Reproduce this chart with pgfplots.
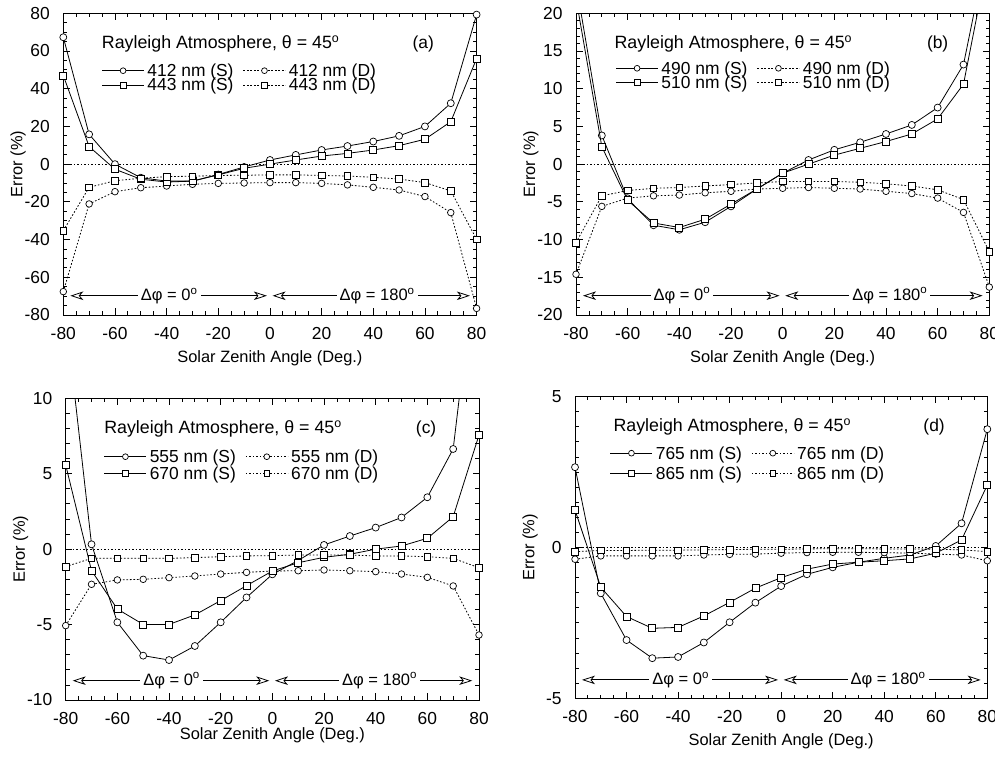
\documentclass[border=0pt]{standalone}
\usepackage{fontspec}
\setmainfont{Liberation Sans}
\usepackage{pgfplots}
\usepackage{pgfplotstable}
\pgfplotsset{compat=1.18}
\usetikzlibrary{arrows.meta}

\newcommand\ticksz{\fontsize{17.4}{20}\selectfont}
\newcommand\titsz{\fontsize{17.8}{20}\selectfont}
\newcommand\legsz{\fontsize{17.4}{20}\selectfont}
\newcommand\arrsz{\fontsize{16.5}{19}\selectfont}
\newcommand\labsz{\fontsize{16.4}{19}\selectfont}
\newcommand\legent[1]{\hspace*{3pt}#1\hspace*{9.5pt}}

\pgfplotstableread{
x s1 d1 s2 d2
-80 67.3 -67.6 47.0 -35.3
-70 15.8 -21.1 9.3 -12.3
-60 0.0 -14.6 -2.7 -8.8
-50 -7.2 -12.5 -8.0 -7.5
-40 -9.0 -11.6 -9.5 -6.6
-30 -9.0 -10.7 -9.0 -6.4
-20 -5.5 -10.2 -5.7 -6.0
-10 -1.5 -10.0 -2.2 -5.9
0 2.2 -9.8 0.0 -5.7
10 4.9 -9.8 2.2 -5.7
20 7.5 -10.2 4.3 -6.0
30 9.6 -11.0 5.7 -6.3
40 12.0 -12.3 7.5 -7.0
50 15.0 -13.7 9.8 -7.9
60 20.0 -17.2 13.2 -9.8
70 32.3 -25.7 22.5 -14.2
80 79.3 -76.5 56.0 -39.9
}\dataA

\pgfplotstableread{
x s1 d1 s2 d2
-80 24.0 -14.6 22.0 -10.4
-70 3.8 -5.6 2.3 -4.2
-60 -4.6 -4.5 -4.8 -3.5
-50 -8.1 -4.2 -7.8 -3.2
-40 -8.7 -4.1 -8.4 -3.1
-30 -7.7 -3.8 -7.3 -2.9
-20 -5.6 -3.6 -5.3 -2.7
-10 -3.3 -3.3 -3.3 -2.5
0 -1.2 -3.2 -1.2 -2.3
10 0.55 -3.1 0.0 -2.3
20 1.9 -3.2 1.2 -2.3
30 2.9 -3.3 2.1 -2.4
40 4.0 -3.6 3.0 -2.6
50 5.2 -3.9 4.0 -2.9
60 7.5 -4.5 6.0 -3.4
70 13.2 -6.4 10.6 -4.7
80 30.0 -16.3 28.0 -11.6
}\dataB

\pgfplotstableread{
x s1 d1 s2 d2
-80 15.5 -5.07 5.58 -1.16
-70 0.32 -2.33 -1.43 -0.61
-60 -4.85 -2.04 -3.97 -0.61
-50 -7.06 -2.00 -4.99 -0.61
-40 -7.35 -1.89 -4.99 -0.61
-30 -6.42 -1.78 -4.36 -0.56
-20 -4.85 -1.65 -3.41 -0.50
-10 -3.20 -1.54 -2.42 -0.45
0 -1.67 -1.45 -1.45 -0.43
10 -0.75 -1.43 -0.90 -0.39
20 0.28 -1.38 -0.54 -0.39
30 0.87 -1.43 -0.34 -0.39
40 1.43 -1.49 0.00 -0.45
50 2.10 -1.65 0.21 -0.45
60 3.44 -1.87 0.72 -0.50
70 6.64 -2.44 2.15 -0.61
80 21.0 -5.69 7.57 -1.23
}\dataC

\pgfplotstableread{
x s1 d1 s2 d2
-80 2.66 -0.39 1.24 -0.14
-70 -1.52 -0.28 -1.32 -0.10
-60 -3.07 -0.28 -2.29 -0.10
-50 -3.67 -0.28 -2.68 -0.09
-40 -3.63 -0.28 -2.65 -0.09
-30 -3.15 -0.25 -2.27 -0.08
-20 -2.48 -0.23 -1.82 -0.07
-10 -1.83 -0.22 -1.35 -0.06
0 -1.28 -0.19 -1.00 -0.06
10 -0.89 -0.17 -0.72 -0.05
20 -0.66 -0.16 -0.55 -0.04
30 -0.49 -0.16 -0.49 -0.04
40 -0.36 -0.17 -0.44 -0.05
50 -0.25 -0.19 -0.38 -0.05
60 0.05 -0.22 -0.19 -0.06
70 0.80 -0.25 0.25 -0.08
80 3.92 -0.44 2.07 -0.14
}\dataD

\pgfplotsset{
  S/.style={black, line width=0.8pt, solid, mark size=3.5pt,
    mark options={solid, fill=white, line width=0.7pt}},
  D/.style={black, line width=0.8pt, dash pattern=on 1.6pt off 1.9pt, mark size=3.3pt,
    mark options={solid, fill=white, line width=0.7pt}},
  panel/.style={
    scale only axis, width=413.3pt, height=301.7pt,
    xmin=-80, xmax=80, xtick={-80,-60,...,80}, minor x tick num=3,
    tick align=inside, major tick length=6.5pt, minor tick length=3.8pt,
    axis line style={line width=0.9pt},
    every tick/.style={black, line width=0.8pt},
    /pgf/number format/assume math mode=true,
    tick label style={font=\ticksz, inner sep=0pt},
    xticklabel style={anchor=center, yshift=-18.3pt},
    yticklabel style={anchor=east, xshift=-13.3pt},
    ylabel={Error (\%)}, xlabel={Solar Zenith Angle (Deg.)},
    every axis y label/.style={at={(axis description cs:-0.109,0.5)}, anchor=center, rotate=90, font=\labsz},
    every axis x label/.style={at={(axis description cs:0.5,-0.1435)}, anchor=center, font=\labsz},
    clip mode=individual,
    legend columns=2,
    legend style={draw=none, fill=none, inner sep=0pt, outer sep=0pt, anchor=north west,
      font=\legsz, nodes={inner sep=0pt, text height=12pt, text depth=0pt}, column sep=0pt},
    legend cell align=left,
    legend image code/.code={\draw[##1] (0pt,0pt) -- (42pt,0pt); \draw[##1, mark size=2.9pt] plot coordinates {(21pt,0pt)};},
  },
}

\newcommand\arrowsat[1]{%
  \draw[line width=0.8pt, {Stealth[open,length=13pt,width=8.5pt,inset=3.5pt]}-{Stealth[open,length=13pt,width=8.5pt,inset=3.5pt]}] (axis cs:-77.3,#1) -- (axis cs:-1.2,#1);
  \draw[line width=0.8pt, {Stealth[open,length=13pt,width=8.5pt,inset=3.5pt]}-{Stealth[open,length=13pt,width=8.5pt,inset=3.5pt]}] (axis cs:1.0,#1) -- (axis cs:77.4,#1);
  \node[fill=white, inner sep=3pt, font=\arrsz] at (axis cs:-39,#1) {Δφ = 0\textsuperscript{o}};
  \node[fill=white, inner sep=3pt, font=\arrsz] at (axis cs:41.5,#1) {Δφ = 180\textsuperscript{o}};
}
\newcommand\titles[2]{%
  \node[anchor=west, font=\titsz, inner sep=0pt] at (axis description cs:0.093,0.899) {Rayleigh Atmosphere, θ = 45\textsuperscript{o}};
  \node[font=\legsz, inner sep=0pt] at (axis description cs:#2,0.899) {#1};
}

\begin{document}
\begin{tikzpicture}
% (a)
\begin{axis}[panel, at={(63.3pt,442pt)}, anchor=south west,
  ymin=-80, ymax=80, ytick={-80,-60,...,80}, minor y tick num=3,
  legend style={at={(axis description cs:0.0929,0.8296)}, row sep=2.3pt}]
\addplot[forget plot, D, mark=none] coordinates {(-80,0) (80,0)};
\addplot[S, mark=*] table[x=x, y=s1] {\dataA}; \addlegendentry{\legent{412 nm (S)}}
\addplot[D, mark=*] table[x=x, y=d1] {\dataA}; \addlegendentry{\legent{412 nm (D)}}
\addplot[S, mark=square*] table[x=x, y=s2] {\dataA}; \addlegendentry{\legent{443 nm (S)}}
\addplot[D, mark=square*] table[x=x, y=d2] {\dataA}; \addlegendentry{\legent{443 nm (D)}}
\arrowsat{-69.8}
\titles{(a)}{0.871}
\end{axis}
% (b)
\begin{axis}[panel, at={(576pt,442pt)}, anchor=south west,
  ymin=-20, ymax=20, ytick={-20,-15,...,20}, minor y tick num=4,
  legend style={at={(axis description cs:0.096,0.8376)}, row sep=2.4pt}]
\addplot[forget plot, D, mark=none] coordinates {(-80,0) (80,0)};
\addplot[S, mark=*] table[x=x, y=s1] {\dataB}; \addlegendentry{\legent{490 nm (S)}}
\addplot[D, mark=*] table[x=x, y=d1] {\dataB}; \addlegendentry{\legent{490 nm (D)}}
\addplot[S, mark=square*] table[x=x, y=s2] {\dataB}; \addlegendentry{\legent{510 nm (S)}}
\addplot[D, mark=square*] table[x=x, y=d2] {\dataB}; \addlegendentry{\legent{510 nm (D)}}
\arrowsat{-17.44}
\titles{(b)}{0.875}
\end{axis}
% (c)
\begin{axis}[panel, at={(65.7pt,57pt)}, anchor=south west,
  ymin=-10, ymax=10, ytick={-10,-5,...,10}, minor y tick num=4,
  every axis x label/.style={at={(axis description cs:0.5,-0.116)}, anchor=center, font=\labsz},
  legend style={at={(axis description cs:0.0927,0.8263)}, row sep=4.7pt}]
\addplot[forget plot, D, mark=none] coordinates {(-80,0) (80,0)};
\addplot[S, mark=*] table[x=x, y=s1] {\dataC}; \addlegendentry{\legent{555 nm (S)}}
\addplot[D, mark=*] table[x=x, y=d1] {\dataC}; \addlegendentry{\legent{555 nm (D)}}
\addplot[S, mark=square*] table[x=x, y=s2] {\dataC}; \addlegendentry{\legent{670 nm (S)}}
\addplot[D, mark=square*] table[x=x, y=d2] {\dataC}; \addlegendentry{\legent{670 nm (D)}}
\arrowsat{-8.72}
\titles{(c)}{0.872}
\end{axis}
% (d)
\begin{axis}[panel, at={(575pt,58.7pt)}, anchor=south west, width=412.3pt,
  ymin=-5, ymax=5, ytick={-5,0,5}, minor y tick num=9,
  legend style={at={(axis description cs:0.085,0.8323)}, row sep=8pt}]
\addplot[forget plot, D, mark=none] coordinates {(-80,0) (80,0)};
\addplot[S, mark=*] table[x=x, y=s1] {\dataD}; \addlegendentry{\legent{765 nm (S)}}
\addplot[D, mark=*] table[x=x, y=d1] {\dataD}; \addlegendentry{\legent{765 nm (D)}}
\addplot[S, mark=square*] table[x=x, y=s2] {\dataD}; \addlegendentry{\legent{865 nm (S)}}
\addplot[D, mark=square*] table[x=x, y=d2] {\dataD}; \addlegendentry{\legent{865 nm (D)}}
\arrowsat{-4.39}
\titles{(d)}{0.871}
\end{axis}
\pgfresetboundingbox
\path[use as bounding box] (0pt,0pt) rectangle (995pt,757pt);
\end{tikzpicture}
\end{document}
